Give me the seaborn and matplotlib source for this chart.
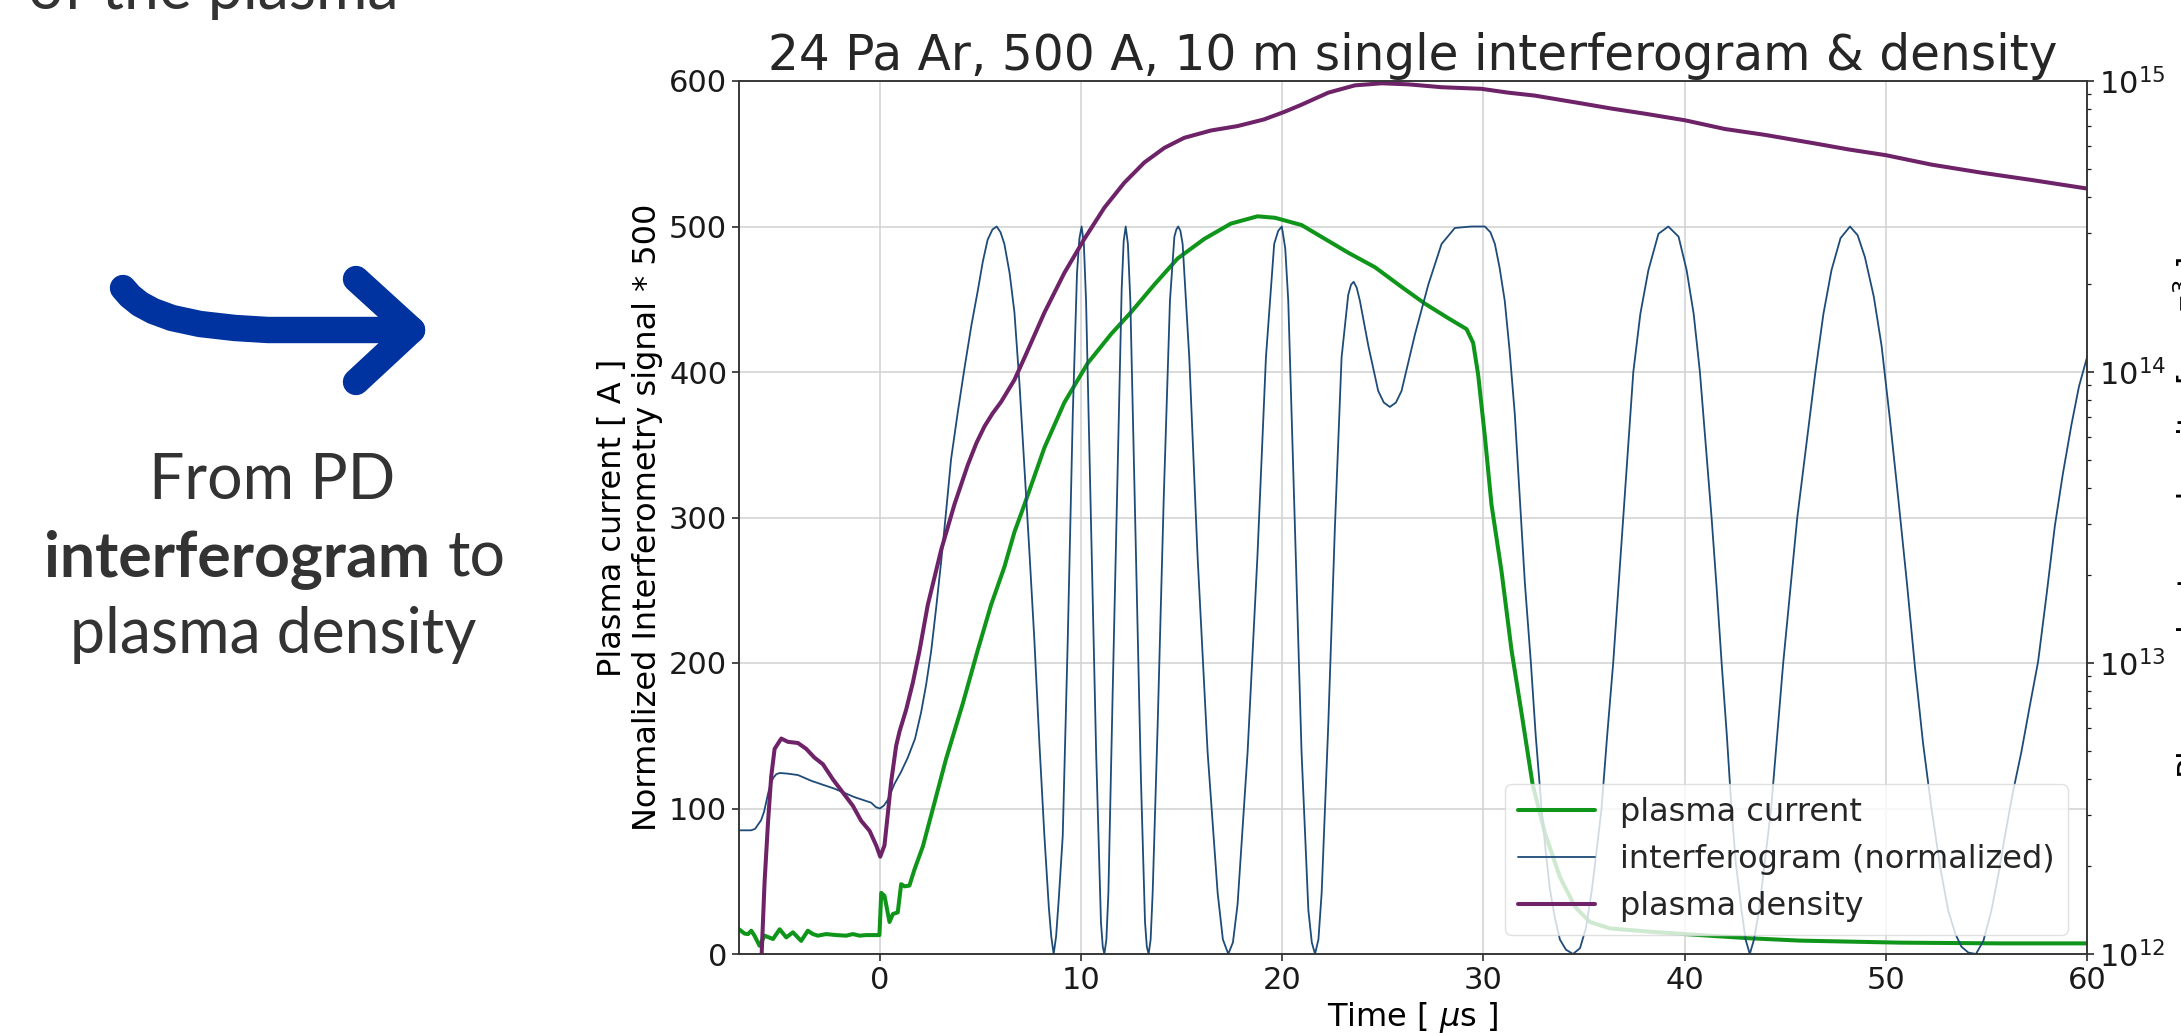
import matplotlib
matplotlib.use("Agg")
import matplotlib.pyplot as plt
import seaborn as sns

# ---- data ----
t_current = [-7.0, -6.72, -6.55, -6.39, -6.23, -5.98, -5.73, -5.31, -4.98, -4.65,
             -4.32, -3.91, -3.58, -3.33, -3.08, -2.67, -2.17, -1.67, -1.34, -1.01,
             -0.68, -0.02, 0.07, 0.23, 0.48, 0.65, 0.89, 1.06, 1.23, 1.47,
             1.72, 2.14, 2.63, 3.29, 4.12, 4.87, 5.53, 6.19, 6.69, 7.19,
             8.18, 9.17, 10.33, 11.49, 12.48, 13.64, 14.8, 16.13, 17.45, 18.77,
             19.64, 20.96, 22.12, 23.28, 24.61, 25.93, 27.09, 28.25, 29.16, 29.49,
             29.74, 30.07, 30.4, 30.9, 31.4, 31.89, 32.44, 33.06, 33.8, 34.55,
             35.29, 36.29, 38.28, 40.76, 43.25, 45.73, 50.7, 55.67, 60.0]
current = [17, 14, 13.7, 16, 12.6, 5.7, 12.6, 10.3, 17, 11.4,
           14.9, 9, 16, 13.7, 12.6, 13.7, 13, 12.6, 13.7, 12.6,
           13, 13, 42, 40, 22, 27.5, 28.6, 48, 46.5, 47,
           58, 74, 99.5, 134, 172, 209, 240, 266, 290, 309,
           348, 379, 406, 426, 441, 460, 478, 491.5, 502, 507,
           506, 501, 491.5, 482, 472, 458.5, 447, 437, 429.5, 420,
           398, 356, 309, 263, 208.5, 166, 117, 83, 53, 32.5,
           22, 17.6, 15.3, 13, 10.8, 9.2, 7.8, 7.3, 7.3]

t_interf = [-7.0, -6.4, -6.2, -5.9, -5.75, -5.56, -5.45, -5.3, -5.15, -4.98,
            -4.6, -4.07, -3.4, -2.25, -1.26, -0.43, -0.2, 0.0, 0.2, 0.4,
            0.73, 1.05, 1.39, 1.75, 2.05, 2.3, 2.55, 2.8, 3.05, 3.3,
            3.54, 3.87, 4.2, 4.55, 4.87, 5.12, 5.36, 5.6, 5.81, 6.0,
            6.19, 6.45, 6.69, 6.94, 7.19, 7.44, 7.68, 7.93, 8.18, 8.4,
            8.52, 8.64, 8.76, 8.88, 9.09, 9.34, 9.59, 9.8, 9.92, 10.03,
            10.14, 10.25, 10.5, 10.75, 10.99, 11.08, 11.16, 11.26, 11.36, 11.57,
            11.82, 12.02, 12.12, 12.22, 12.33, 12.45, 12.7, 12.98, 13.18, 13.27,
            13.36, 13.46, 13.56, 13.81, 14.11, 14.42, 14.64, 14.74, 14.83, 14.94,
            15.05, 15.38, 15.79, 16.29, 16.79, 17.05, 17.32, 17.55, 17.78, 18.28,
            18.77, 19.19, 19.6, 19.8, 19.98, 20.15, 20.3, 20.63, 20.96, 21.3,
            21.47, 21.63, 21.8, 21.96, 22.29, 22.62, 22.95, 23.28, 23.42, 23.55,
            23.7, 23.86, 24.28, 24.77, 25.05, 25.35, 25.65, 25.93, 26.6, 27.26,
            27.92, 28.58, 29.4, 30.07, 30.35, 30.57, 30.8, 31.06, 31.3, 31.56,
            31.8, 32.06, 32.36, 32.6, 32.89, 33.1, 33.3, 33.55, 33.8, 34.1,
            34.45, 34.8, 35.1, 35.4, 35.6, 35.87, 36.15, 36.45, 36.7, 36.95,
            37.2, 37.45, 37.8, 38.2, 38.7, 39.19, 39.7, 40.1, 40.45, 40.76,
            41.05, 41.34, 41.6, 41.84, 42.1, 42.33, 42.55, 42.83, 43.03, 43.24,
            43.45, 43.7, 44.0, 44.3, 44.6, 44.9, 45.25, 45.6, 46.05, 46.5,
            46.9, 47.3, 47.75, 48.22, 48.6, 48.96, 49.4, 49.79, 50.2, 50.62,
            51.05, 51.45, 51.85, 52.27, 52.7, 53.1, 53.45, 53.76, 54.1, 54.48,
            54.85, 55.25, 55.6, 55.92, 56.3, 56.74, 57.15, 57.57, 58.0, 58.4,
            58.8, 59.23, 59.6, 60.0]
interf = [85, 85, 86, 92, 98, 110, 116, 121, 123.5, 124.4,
          124, 123, 119, 113.6, 107.8, 104, 101, 100, 102, 106,
          117, 125, 135, 148, 166, 185, 208, 238, 270, 305,
          340, 372, 402, 432, 456, 476, 491, 498, 500, 496,
          488, 468, 441, 392, 333, 275, 216, 145, 81, 32,
          12, 0, 12, 35, 81, 216, 371, 468, 492, 500,
          488, 449, 294, 139, 22, 5, 0, 10, 42, 178,
          333, 457, 490, 500, 488, 449, 294, 119, 22, 5,
          0, 10, 42, 158, 313, 449, 493, 498, 500, 497,
          488, 410, 274, 139, 42, 10, 0, 8, 34, 139,
          274, 410, 488, 497, 500, 485, 449, 294, 139, 30,
          8, 0, 10, 42, 158, 294, 410, 453, 460, 462,
          458, 449, 418, 387, 379, 376, 379, 387, 426, 460,
          488, 499, 500, 500, 496, 488, 472, 449, 415, 371,
          315, 255, 200, 150, 100, 70, 45, 25, 10, 3,
          0, 4, 18, 45, 68, 100, 150, 200, 250, 300,
          350, 400, 440, 470, 495, 500, 493, 470, 440, 400,
          350, 300, 250, 200, 150, 100, 62, 30, 10, 0,
          10, 30, 65, 100, 150, 200, 250, 300, 350, 400,
          440, 470, 492, 500, 494, 479, 452, 418, 368, 313,
          255, 197, 145, 100, 60, 30, 14, 5, 1, 0,
          9, 30, 55, 81, 110, 139, 170, 201, 248, 294,
          330, 364, 390, 410]

t_density = [-6.05, -5.73, -5.56, -5.4, -5.23, -4.9, -4.57, -4.07, -3.66, -3.25,
             -2.83, -2.33, -1.84, -1.34, -0.93, -0.51, -0.18, 0.02, 0.23, 0.4,
             0.56, 0.81, 0.98, 1.31, 1.64, 1.97, 2.38, 3.05, 3.71, 4.37,
             4.8, 5.2, 5.6, 6.03, 6.69, 7.19, 8.18, 9.17, 10.17, 11.16,
             12.15, 13.15, 14.14, 15.13, 16.46, 17.78, 19.1, 20.1, 20.96, 22.29,
             23.61, 24.94, 26.26, 27.92, 29.9, 31.23, 32.55, 34.72, 36.37, 38.03,
             40.01, 42.0, 43.99, 46.48, 48.14, 50.0, 52.27, 54.76, 57.24, 60.0]
density = [5.0e11, 1.76e12, 2.82e12, 4.07e12, 5.07e12, 5.50e12, 5.36e12, 5.31e12, 5.07e12, 4.73e12,
           4.49e12, 3.98e12, 3.59e12, 3.23e12, 2.87e12, 2.65e12, 2.36e12, 2.16e12, 2.36e12, 3.05e12,
           3.89e12, 5.19e12, 5.82e12, 6.92e12, 8.56e12, 1.10e13, 1.58e13, 2.45e13, 3.51e13, 4.79e13,
           5.7e13, 6.5e13, 7.2e13, 7.9e13, 9.4e13, 1.12e14, 1.60e14, 2.19e14, 2.87e14, 3.67e14,
           4.47e14, 5.25e14, 5.89e14, 6.38e14, 6.76e14, 7.0e14, 7.38e14, 7.83e14, 8.29e14, 9.12e14,
           9.66e14, 9.82e14, 9.74e14, 9.52e14, 9.40e14, 9.12e14, 8.91e14, 8.41e14, 8.04e14, 7.72e14,
           7.33e14, 6.84e14, 6.53e14, 6.10e14, 5.82e14, 5.56e14, 5.16e14, 4.84e14, 4.57e14, 4.27e14]

left_ticks = [0, 100, 200, 300, 400, 500, 600]
time_ticks = [0, 10, 20, 30, 40, 50, 60]

c_current = "#0f961a"
c_interf = "#1e4b78"
c_density = "#6e2369"
c_text = "#333333"

sns.set_theme(style="whitegrid", rc={
    "axes.edgecolor": "0.2",
    "axes.linewidth": 1.1,
    "grid.color": "0.82",
    "grid.linewidth": 1.1,
    "xtick.bottom": True,
    "ytick.left": True,
    "ytick.right": True,
    "xtick.color": "0.1",
    "ytick.color": "0.1",
})
plt.rcParams["font.family"] = ["DejaVu Sans"]

fig = plt.figure(figsize=(21.81, 10.33), dpi=100)

# slide decoration on the left
deco = fig.add_axes([0, 0, 1, 1])
deco.set_xlim(0, 2181)
deco.set_ylim(1033, 0)
deco.axis("off")
deco.plot([123, 130, 140, 153, 172, 200, 235, 268, 412], [288, 296, 304, 311, 318, 324, 328, 330, 330],
          color="#0033a0", lw=19, solid_capstyle="round", solid_joinstyle="round")
deco.plot([356, 412, 356], [279, 330, 382],
          color="#0033a0", lw=19, solid_capstyle="round", solid_joinstyle="round")

slide_font = {"family": "Lato", "size": 45, "color": c_text}
fig.text(0.0977, 1 - 9 / 1033, "of the plasma", ha="center", va="baseline", **slide_font)
fig.text(0.1247, 1 - 499 / 1033, "From PD", ha="center", va="baseline", **slide_font)
fig.text(0.1972, 1 - 576 / 1033, "interferogram", ha="right", va="baseline",
         fontweight="bold", **slide_font)
fig.text(0.2054, 1 - 576 / 1033, "to", ha="left", va="baseline", **slide_font)
fig.text(0.1252, 1 - 653 / 1033, "plasma density", ha="center", va="baseline", **slide_font)

# the chart
ax = fig.add_axes([739 / 2181, 1 - 954 / 1033, 1348 / 2181, 873 / 1033])
sns.lineplot(x=t_current, y=current, ax=ax, color=c_current, lw=2.9,
             label="plasma current", sort=False, legend=False)
sns.lineplot(x=t_interf, y=interf, ax=ax, color=c_interf, lw=1.3,
             label="interferogram (normalized)", sort=False, legend=False)
ax.set_xlim(-7, 60)
ax.set_ylim(0, 600)
ax.set_xticks(time_ticks)
ax.set_yticks(left_ticks)
ax.tick_params(labelsize=22, length=5, width=1.1)
ax.set_xlabel("Time [ $\\mu$s ]", fontsize=23, color="black")
ax.set_ylabel("Plasma current [ A ]\nNormalized Interferometry signal * 500",
              fontsize=23, color="black", labelpad=4)
ax.set_title("24 Pa Ar, 500 A, 10 m single interferogram & density", fontsize=35, pad=8)

ax2 = ax.twinx()
sns.lineplot(x=t_density, y=density, ax=ax2, color=c_density, lw=2.9,
             label="plasma density", sort=False, legend=False)
ax2.set_yscale("log")
ax2.set_ylim(1e12, 1e15)
ax2.grid(False)
ax2.tick_params(labelsize=22, which="major", length=5, width=1.1)
ax2.tick_params(which="minor", length=3, width=0.9, right=True)
ax2.set_ylabel("Plasma electron density [ cm$^{-3}$ ]", fontsize=23, color="black")

h1, l1 = ax.get_legend_handles_labels()
h2, l2 = ax2.get_legend_handles_labels()
ax2.legend(h1 + h2, l1 + l2, loc="lower right", fontsize=23, framealpha=0.8,
           edgecolor="0.85", handlelength=2.4, borderaxespad=0.6)

fig.savefig("out.png", dpi=100)
